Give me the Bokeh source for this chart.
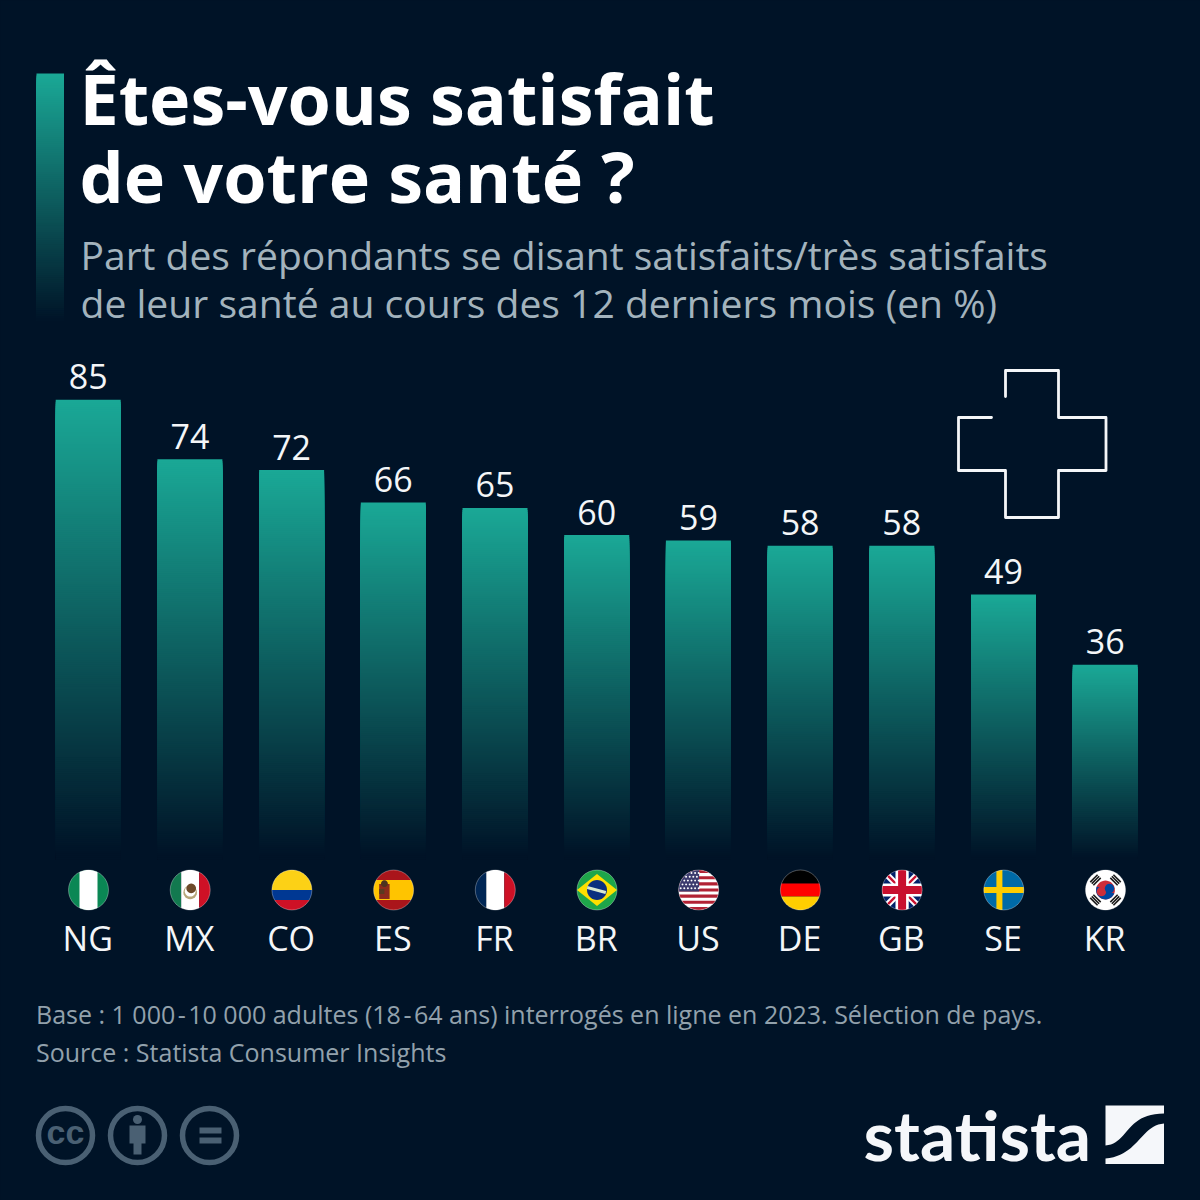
import numpy as np
from bokeh.embed import file_html
from bokeh.models import Range1d
from bokeh.plotting import figure
from bokeh.resources import INLINE
from bokeh.core.properties import value

countries = ["NG", "MX", "CO", "ES", "FR", "BR", "US", "DE", "GB", "SE", "KR"]
shares = [85, 74, 72, 66, 65, 60, 59, 58, 58, 49, 36]
title_lines = ["Êtes-vous satisfait", "de votre santé ?"]
subtitle_lines = ["Part des répondants se disant satisfaits/très satisfaits",
                  "de leur santé au cours des 12 derniers mois (en %)"]
footer_lines = ["Base : 1 000\u200a-\u200a10 000 adultes (18\u200a-\u200a64 ans) interrogés en ligne en 2023. Sélection de pays.",
                "Source : Statista Consumer Insights"]

BG = "#001327"
TEAL = np.array([26, 168, 150])
BASE = np.array([0, 19, 39])
FONT = value("Open Sans")

PX_PER_UNIT = 5.408
ZERO_PX = 859.0
STEP = 101.7
FIRST = 87.7
BAR_W = 65.0 / STEP

p = figure(width=1200, height=1200, output_backend="svg", toolbar_location=None,
           x_range=Range1d(-FIRST / STEP, (1200 - FIRST) / STEP),
           y_range=Range1d((ZERO_PX - 1200) / PX_PER_UNIT, ZERO_PX / PX_PER_UNIT),
           min_border=0, outline_line_color=None, background_fill_color=BG,
           border_fill_color=BG)
p.axis.visible = False
p.grid.visible = False
p.extra_x_ranges = {"px": Range1d(0, 1200)}
p.extra_y_ranges = {"px": Range1d(1200, 0)}
PX = dict(x_range_name="px", y_range_name="px")


def mix(t):
    c = TEAL * (1 - t) + BASE * t
    return "#%02x%02x%02x" % tuple(int(round(v)) for v in c)


# bars: each is a stack of overlapping slices that fade to the background
for i, v in enumerate(shares):
    n = int(v * PX_PER_UNIT / 2)
    tops = v * (1 - np.arange(n) / n)
    ts = np.minimum(np.arange(n) / (n * 0.985), 1)
    p.quad(left=i - BAR_W / 2, right=i + BAR_W / 2, top=tops, bottom=0,
           fill_color=[mix(t) for t in ts], line_color=None)

p.text(x=list(range(len(shares))), y=shares, text=[str(v) for v in shares],
       text_font=FONT, text_font_size="34px", text_color="#f4f6f8",
       text_align="center", text_baseline="alphabetic", y_offset=-23)
p.text(x=list(range(len(countries))), y=[0] * len(countries), text=countries,
       text_font=FONT, text_font_size="34px", text_color="#f4f6f8",
       text_align="center", text_baseline="alphabetic", y_offset=78, x_offset=-0.5)

# title block
n = 120
ys = np.linspace(73, 320, n + 1)
p.quad(left=36, right=63.5, top=ys[:-1], bottom=320,
       fill_color=[mix(t) for t in np.arange(n) / n], line_color=None, **PX)
p.text(x=[79, 79], y=[97, 175], text=title_lines, text_font=FONT,
       text_font_style="bold", text_font_size="70px", text_color="#ffffff",
       text_baseline="alphabetic", **PX)
p.text(x=[80], y=[254], text=subtitle_lines[:1], text_font=FONT,
       text_font_size="39px", text_color="#a3b3bd", text_baseline="alphabetic", **PX)
p.text(x=[80], y=[302], text=subtitle_lines[1:], text_font=FONT,
       text_font_size="39.1px", text_color="#a3b3bd", text_baseline="alphabetic", **PX)
p.text(x=[35.5, 35.5], y=[1013, 1051], text=footer_lines, text_font=FONT,
       text_font_size="25px", text_color="#92a1ac", text_baseline="alphabetic", **PX)

# cross icon (open outline)
cx = [1005, 1005, 1058, 1058, 1105.5, 1105.5, 1058, 1058, 1005, 1005, 958, 958, 991]
cy = [396, 370, 370, 417, 417, 470, 470, 517, 517, 470, 470, 417, 417]
p.line(cx, cy, line_color="#f4f6f8", line_width=2.8, line_join="round", line_cap="round", **PX)


# flags
def clip(poly, a, b, c):
    """keep the part of poly where a*x+b*y<=c"""
    out = []
    m = len(poly)
    for k in range(m):
        P, Q = poly[k], poly[(k + 1) % m]
        dp, dq = a * P[0] + b * P[1] - c, a * Q[0] + b * Q[1] - c
        if dp <= 0:
            out.append(P)
        if dp * dq < 0:
            s = dp / (dp - dq)
            out.append((P[0] + s * (Q[0] - P[0]), P[1] + s * (Q[1] - P[1])))
    return out


th = np.linspace(0, 2 * np.pi, 72, endpoint=False)
DISC = [(float(np.cos(t)), float(np.sin(t))) for t in th]
flag_xs, flag_ys, flag_cols = [], [], []
FLAG0 = 88.0


def add(cxp, poly, col):
    if len(poly) < 3:
        return
    flag_xs.append([cxp + 20 * q[0] for q in poly])
    flag_ys.append([889.5 + 20 * q[1] for q in poly])
    flag_cols.append(col)


def rect(cxp, x0, x1, y0, y1, col):
    poly = DISC
    for a, b, c in ((1, 0, x1), (-1, 0, -x0), (0, 1, y1), (0, -1, -y0)):
        poly = clip(poly, a, b, c)
    add(cxp, poly, col)


def convex(cxp, pts, col):
    poly = DISC
    m = len(pts)
    area = sum(pts[k][0] * pts[(k + 1) % m][1] - pts[(k + 1) % m][0] * pts[k][1] for k in range(m))
    for k in range(m):
        A, B = pts[k], pts[(k + 1) % m]
        nx, ny = (B[1] - A[1]), -(B[0] - A[0])
        if area < 0:
            nx, ny = -nx, -ny
        poly = clip(poly, nx, ny, nx * A[0] + ny * A[1])
    add(cxp, poly, col)


def dot(cxp, x, y, r, col, n=24):
    t = np.linspace(0, 2 * np.pi, n, endpoint=False)
    add(cxp, [(x + r * float(np.cos(a)), y + r * float(np.sin(a))) for a in t], col)


C = {c: FLAG0 + STEP * i for i, c in enumerate(countries)}

c = C["NG"]
rect(c, -1, 1, -1, 1, "#0a8754"); rect(c, -0.45, 0.45, -1, 1, "#ffffff")

c = C["MX"]
rect(c, -1, -0.45, -1, 1, "#12794f"); rect(c, -0.45, 0.45, -1, 1, "#ffffff"); rect(c, 0.45, 1, -1, 1, "#ce1126")
dot(c, 0, 0.12, 0.34, "#b7a67a"); dot(c, 0, 0.06, 0.27, "#ffffff")
dot(c, 0.05, -0.08, 0.24, "#6d4a2a")

c = C["CO"]
rect(c, -1, 1, -1, 0, "#fcd116"); rect(c, -1, 1, 0, 0.5, "#003893"); rect(c, -1, 1, 0.5, 1, "#ce1126")

c = C["ES"]
rect(c, -1, 1, -1, -0.5, "#aa151b"); rect(c, -1, 1, -0.5, 0.5, "#ffc400"); rect(c, -1, 1, 0.5, 1, "#aa151b")
rect(c, -0.72, -0.2, -0.3, 0.45, "#8a2a1c"); dot(c, -0.46, -0.32, 0.17, "#4c3320"); rect(c, -0.72, -0.46, -0.05, 0.2, "#5a3a20")

c = C["FR"]
rect(c, -1, -0.45, -1, 1, "#002654"); rect(c, -0.45, 0.45, -1, 1, "#ffffff"); rect(c, 0.45, 1, -1, 1, "#ce1126")

c = C["BR"]
rect(c, -1, 1, -1, 1, "#1ea64a")
convex(c, [(-1, 0), (0, -0.8), (1, 0), (0, 0.8)], "#fedf00")
dot(c, 0, 0, 0.5, "#0a2f7f", 32)
convex(c, [(-0.48, -0.2), (0.46, 0.05), (0.42, 0.2), (-0.5, -0.05)], "#d8e8d0")

c = C["US"]
rect(c, -1, 1, -1, 1, "#ffffff")
stripe_h = 2 / 13
for k in range(0, 13, 2):
    rect(c, -1, 1, -1 + k * stripe_h, -1 + (k + 1) * stripe_h, "#b22234")
rect(c, -1, 0.02, -1, -1 + 7 * stripe_h, "#3c3b6e")
for row in range(5):
    for col in range(6):
        xs_ = -0.9 + col * 0.18 + (0.09 if row % 2 else 0)
        ys_ = -0.85 + row * 0.19
        if xs_ ** 2 + ys_ ** 2 < 0.93 and xs_ < 0.0:
            dot(c, xs_, ys_, 0.05, "#ffffff", 8)

c = C["DE"]
rect(c, -1, 1, -1, -0.33, "#000000"); rect(c, -1, 1, -0.33, 0.33, "#ff0000"); rect(c, -1, 1, 0.33, 1, "#ffce00")

c = C["GB"]
rect(c, -1, 1, -1, 1, "#012169")
convex(c, [(-1, -0.78), (-0.78, -1), (1, 0.78), (0.78, 1)], "#ffffff")
convex(c, [(-1, 0.78), (-0.78, 1), (1, -0.78), (0.78, -1)], "#ffffff")
convex(c, [(-1, -0.92), (-0.92, -1), (1, 0.92), (0.92, 1)], "#c8102e")
convex(c, [(-1, 0.92), (-0.92, 1), (1, -0.92), (0.92, -1)], "#c8102e")
rect(c, -0.33, 0.33, -1, 1, "#ffffff"); rect(c, -1, 1, -0.33, 0.33, "#ffffff")
rect(c, -0.2, 0.2, -1, 1, "#c8102e"); rect(c, -1, 1, -0.2, 0.2, "#c8102e")

c = C["SE"]
rect(c, -1, 1, -1, 1, "#006aa7"); rect(c, -0.37, -0.07, -1, 1, "#fecc00"); rect(c, -1, 1, -0.15, 0.15, "#fecc00")

c = C["KR"]
rect(c, -1, 1, -1, 1, "#ffffff")
dot(c, 0, 0, 0.47, "#cd2e3a", 36)
t_ = np.linspace(np.pi * 0.12, np.pi * 1.12, 20)
blue = [(0.47 * float(np.cos(a)), 0.47 * float(np.sin(a))) for a in t_]
add(c, blue, "#0047a0")
dot(c, -0.2, 0.08, 0.235, "#cd2e3a", 20); dot(c, 0.2, -0.08, 0.235, "#0047a0", 20)
for sx, sy in ((-1, -1), (1, -1), (-1, 1), (1, 1)):
    dirx, diry = sx * 0.707, sy * 0.707
    tx, ty = -diry, dirx
    for rad in (0.60, 0.71, 0.82):
        P = [(dirx * (rad + a) + tx * b, diry * (rad + a) + ty * b)
             for a, b in ((-0.04, -0.26), (0.04, -0.26), (0.04, 0.26), (-0.04, 0.26))]
        add(c, P, "#1a1a1a")

p.patches(flag_xs, flag_ys, fill_color=flag_cols, line_color=None, **PX)
p.scatter([C[k] for k in countries], [889.5] * len(countries), size=40, marker="circle",
          fill_color=None, line_color="#ffffff", line_alpha=0.3, line_width=1, **PX)

# licence icons
ICON = "#4a6073"
p.scatter([65, 137, 209], [1135] * 3, size=54, marker="circle", fill_color=None,
          line_color=ICON, line_width=5.5, **PX)
p.text(x=[65], y=[1131], text=["cc"], text_font=value("Liberation Sans"), text_font_style="bold",
       text_font_size="34px", text_color=ICON, text_align="center", text_baseline="alphabetic", **PX)
p.scatter([137], [1119], size=9, marker="circle", fill_color=ICON, line_color=None, **PX)
p.patches([[129, 145, 145, 141, 141, 133, 133, 129]], [[1125, 1125, 1143, 1143, 1154, 1154, 1143, 1143]],
          fill_color=ICON, line_color=None, **PX)
p.quad(left=[199, 199], right=[221, 221], top=[1127, 1137], bottom=[1133, 1143],
       fill_color=ICON, line_color=None, **PX)

# wordmark
p.text(x=[863], y=[1133], text=["statista"], text_font=value("Lato"),
       text_font_style="bold", text_font_size="69.5px", text_color="#f5f7fa",
       text_baseline="alphabetic", **PX)


def bez(P0, P1, P2, P3, n=24):
    t = np.linspace(0, 1, n)[:, None]
    P0, P1, P2, P3 = map(np.array, (P0, P1, P2, P3))
    return (1 - t) ** 3 * P0 + 3 * (1 - t) ** 2 * t * P1 + 3 * (1 - t) * t ** 2 * P2 + t ** 3 * P3


upper = np.vstack([[(1105, 1105), (1163.5, 1105), (1163.5, 1113)],
                   bez((1163.5, 1113), (1125, 1113), (1128, 1143), (1105, 1145))])
lower = np.vstack([bez((1163.5, 1123), (1140, 1125), (1138, 1155), (1105, 1158)),
                   [(1105, 1163.5), (1163.5, 1163.5)]])
p.patches([list(upper[:, 0]), list(lower[:, 0])], [list(upper[:, 1]), list(lower[:, 1])],
          fill_color="#f5f7fa", line_color=None, **PX)

html = file_html(p, INLINE)
html = html.replace("</head>", "<style>html,body{margin:0;padding:0;background:%s;overflow:hidden}</style></head>" % BG, 1)
open("out.html", "w").write(html)
